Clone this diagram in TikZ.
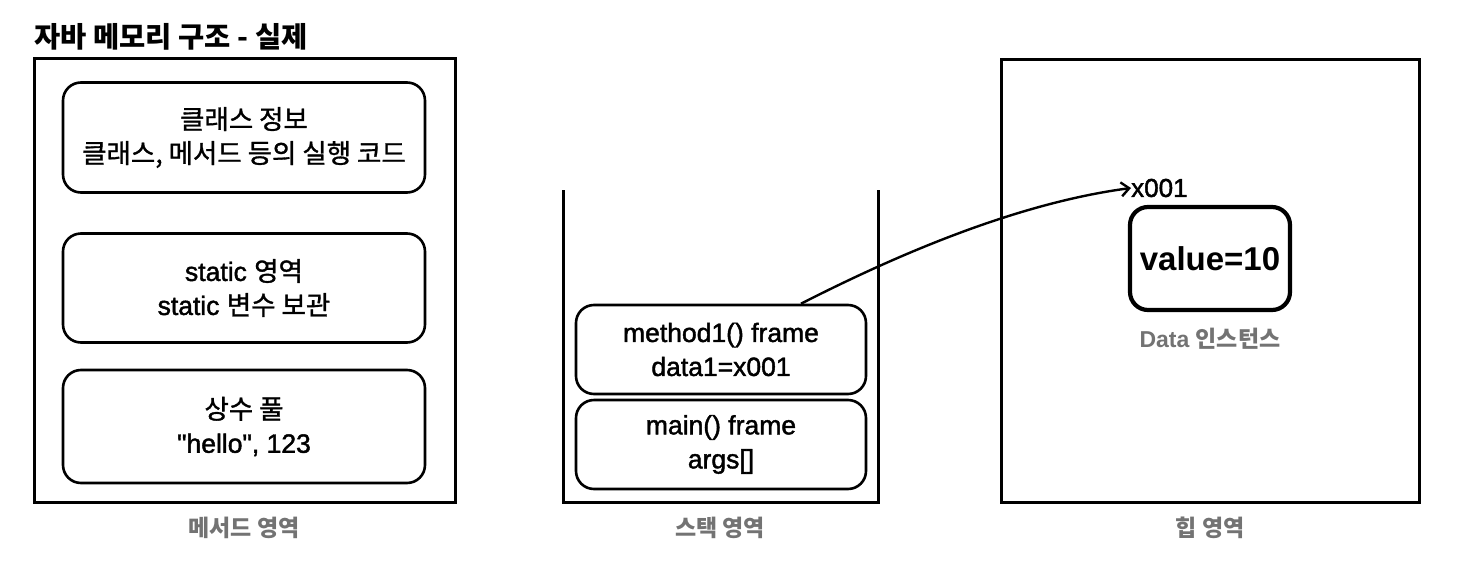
\documentclass[tikz,border=0pt]{standalone}
\usepackage{fontspec}
\setmainfont{Liberation Sans}[Ligatures=TeXOff]
\newfontfamily\med{Liberation Sans}[Ligatures=TeXOff,BoldFont=Liberation Sans,BoldFeatures={FakeBold=1.6}]
\newfontfamily\kr{Noto Sans CJK KR}
\newfontfamily\krm{Noto Sans CJK KR}[BoldFont=Noto Sans CJK KR,BoldFeatures={FakeBold=1.2}]
\newcommand\mtext{\med\bfseries}
\newcommand\ktext{\krm\bfseries}
\usetikzlibrary{arrows.meta}
\begin{document}
\begin{tikzpicture}[x=1pt,y=-1pt,
  area/.style={draw,line width=3pt,inner sep=0pt},
  membox/.style={draw,line width=2.6pt,rounded corners=18pt,inner sep=0pt,align=center,
     font=\fontsize{26.5}{34}\selectfont\mtext},
  glabel/.style={text=black!55,font=\fontsize{23}{26}\selectfont\bfseries},
  ref/.style={line width=2.4pt,-{Straight Barb[length=8pt,width=14pt,line width=2.4pt]}}]
\useasboundingbox (0,0) rectangle (1460,560);
% title
\node[anchor=west,font=\fontsize{28.5}{30}\selectfont] (title) at (31,37) {\kr\bfseries 자바 메모리 구조 - 실제};
% method area
\node[area,minimum width=421pt,minimum height=444pt] (marea) at (244.5,280) {};
\node[membox,minimum width=362pt,minimum height=110pt] (cls) at (244,137.5)
  {{\ktext 클래스 정보}\\{\ktext 클래스, 메서드 등의 실행 코드}};
\node[membox,minimum width=362pt,minimum height=109pt] (st) at (244,288)
  {static {\ktext 영역}\\static {\ktext 변수 보관}};
\node[membox,minimum width=362pt,minimum height=113pt] (pool) at (244,426.5)
  {{\ktext 상수 풀}\\"hello", 123};
\node[glabel] (mlabel) at (244,528) {\kr\bfseries 메서드 영역};
% stack
\coordinate (s1) at (563,190);
\coordinate (s2) at (563,502);
\coordinate (s3) at (878,502);
\coordinate (s4) at (878,190);
\draw[line width=3pt] (s1) -- (s2) -- (s3) -- (s4);
\node[membox,minimum width=290pt,minimum height=89pt] (m1) at (721,349.5)
  {method1() frame\\data1=x001};
\node[membox,minimum width=290pt,minimum height=89pt] (mn) at (721,444.5)
  {main() frame\\args[]};
\node[glabel] (slabel) at (720,528) {\kr\bfseries 스택 영역};
% heap
\node[area,minimum width=418pt,minimum height=443pt] (heap) at (1210.5,280.5) {};
\node[draw,line width=4.2pt,rounded corners=18pt,minimum width=160pt,minimum height=103pt,
  font=\fontsize{33}{36}\selectfont\bfseries] (val) at (1210,258.5) {value=10};
\node[glabel] (dlabel) at (1210,339) {Data {\kr\bfseries 인스턴스}};
\node[anchor=west,inner sep=0pt,font=\fontsize{26}{28}\selectfont\mtext] (addr) at (1131,188) {x001};
\node[glabel] (hlabel) at (1210,528) {\kr\bfseries 힙 영역};
% reference arrow
\draw[ref] ([xshift=80pt]m1.north) .. controls +(98,-50) and (1018,203) .. (addr.west);
\end{tikzpicture}
\end{document}
